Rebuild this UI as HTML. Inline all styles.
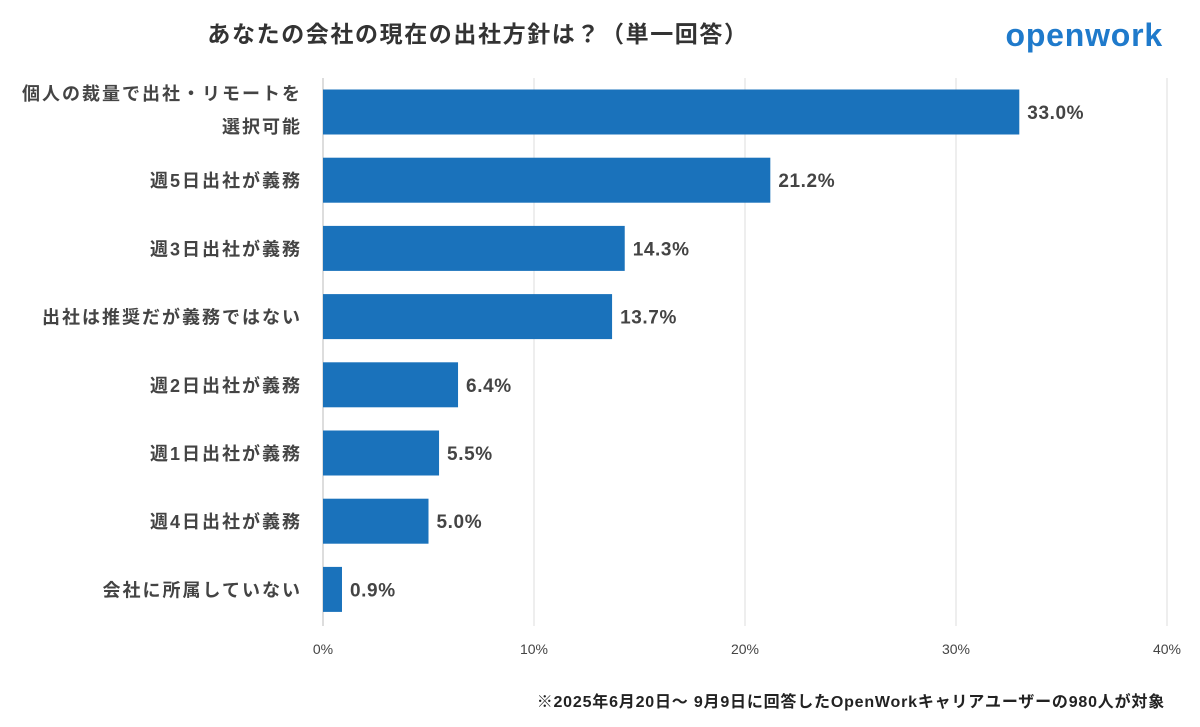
<!DOCTYPE html>
<html><head><meta charset="utf-8"><style>
body{margin:0;background:#fff;width:1200px;height:722px;overflow:hidden;font-family:"Liberation Sans","Noto Sans CJK JP",sans-serif;}
svg text{font-family:"Liberation Sans","Noto Sans CJK JP",sans-serif;}
</style></head><body>
<svg id="c" width="1200" height="722">
<text x="478" y="42" text-anchor="middle" font-size="23" font-weight="bold" fill="#333" letter-spacing="1.6">あなたの会社の現在の出社方針は？（単一回答）</text>
<text x="1163" y="46" text-anchor="end" font-size="32" font-weight="bold" fill="#1f7acb" letter-spacing="0.8">openwork</text>
<text x="1165" y="707" text-anchor="end" font-size="16" font-weight="bold" fill="#222" letter-spacing="0.8">※2025年6月20日～ 9月9日に回答したOpenWorkキャリアユーザーの980人が対象</text>
<g id="grid"></g><g id="bars"></g>
</svg>
<script>
const categories=["個人の裁量で出社・リモートを|選択可能","週5日出社が義務","週3日出社が義務","出社は推奨だが義務ではない","週2日出社が義務","週1日出社が義務","週4日出社が義務","会社に所属していない"];
const values=[33.0,21.2,14.3,13.7,6.4,5.5,5.0,0.9];
const ticks=[0,10,20,30,40];
const NS="http://www.w3.org/2000/svg";
const x=v=>323+v*(1167-323)/40;
const y=i=>112+i*68.2;
function mk(t,a,p){const e=document.createElementNS(NS,t);for(const k in a)e.setAttribute(k,a[k]);p.appendChild(e);return e;}
const g=document.getElementById('grid'),b=document.getElementById('bars');
ticks.forEach(t=>{
 const l=mk('line',{x1:x(t),x2:x(t),y1:78,y2:626,stroke:t===0?'#bbb':'#ddd','stroke-width':1},g);
 
 
 const tx=mk('text',{x:x(t),y:654,'text-anchor':'middle','font-size':14,fill:'#444'},g);
 tx.textContent=t+'%';
 
 
});
categories.forEach((c,i)=>{
 const r=mk('rect',{x:x(0),y:y(i)-22.5,width:x(values[i])-x(0),height:45,fill:'#1a72bb'},b);
 
 
 const v=mk('text',{x:x(values[i])+8,y:y(i)+7,'font-size':19,'font-weight':'bold',fill:'#444','letter-spacing':0.6},b);
 v.textContent=values[i].toFixed(1)+'%';
 
 
 const parts=c.split('|');
 parts.forEach((p,j)=>{
  const yy=parts.length>1?y(i)-12+j*33:y(i)+7;
  const t=mk('text',{x:302,y:yy,'text-anchor':'end','font-size':18,'font-weight':'bold',fill:'#444','letter-spacing':2},b);
  t.textContent=p;
  
  
 });
});
</script>
</body></html>
